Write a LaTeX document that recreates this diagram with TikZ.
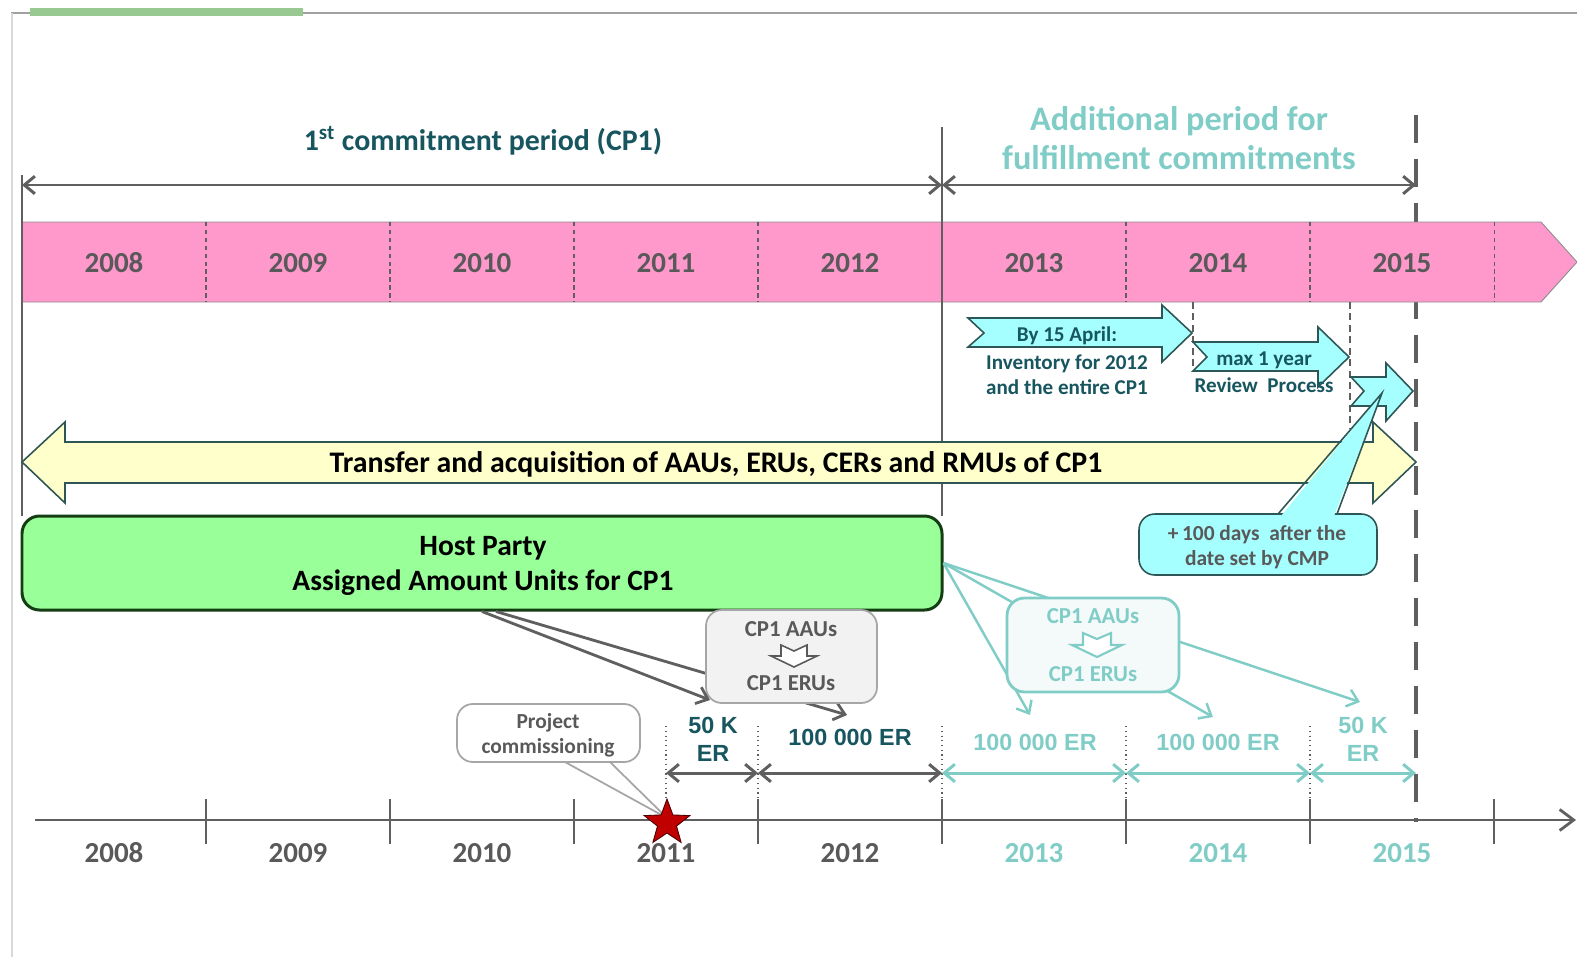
\documentclass[tikz,border=0pt]{standalone}
\usepackage{fontspec}
\setmainfont{Carlito}
\newfontfamily\arialfont{Liberation Sans}
\usepackage{tikz}
\usetikzlibrary{arrows.meta, fit, shapes.geometric}
\definecolor{linegray}{HTML}{5F5F5F}
\definecolor{textgray}{HTML}{595959}
\definecolor{framegray}{HTML}{A0A0A0}
\definecolor{framegreen}{HTML}{98C990}
\definecolor{bandpink}{HTML}{FF99CC}
\definecolor{transyellow}{HTML}{FFFFCC}
\definecolor{stepcyan}{HTML}{A6FFFF}
\definecolor{hostgreen}{HTML}{99FF99}
\definecolor{hostborder}{HTML}{143D14}
\definecolor{shapeborder}{HTML}{2F5656}
\definecolor{darkteal}{HTML}{17555F}
\definecolor{lightteal}{HTML}{80CCC6}
\definecolor{boxgray}{HTML}{F2F2F2}
\definecolor{boxborder}{HTML}{A6A6A6}
\definecolor{tealfill}{HTML}{F4FAFA}
\definecolor{starred}{HTML}{C00000}

\begin{document}
\begin{tikzpicture}[x=0.02cm, y=-0.02cm,
    yearlbl/.style={text=textgray, font=\fontsize{16.5}{16.5}\selectfont\bfseries},
    erlbl/.style={text=darkteal, align=center, font=\arialfont\bfseries\fontsize{13.3}{16}\selectfont},
    dimdark/.style={linegray, line width=1.7pt, {Straight Barb[length=6pt,width=10pt]}-{Straight Barb[length=6pt,width=10pt]}},
    dimteal/.style={dimdark, lightteal},
    convdark/.style={linegray, line width=1.6pt, -{Straight Barb[length=6pt,width=10pt]}},
    convteal/.style={convdark, lightteal, line width=1.4pt},
    steptext/.style={text=darkteal, align=center, font=\fontsize{12}{14.2}\selectfont\bfseries},
    stepshape/.style={fill=stepcyan, draw=shapeborder, line width=0.9pt},
    convbox/.style={fill=boxgray, draw=boxborder, line width=1pt, rounded corners=9pt, inner sep=0pt},
    convtext/.style={text=textgray, font=\fontsize{13}{13}\selectfont\bfseries},
    hosttext/.style={font=\fontsize{16.8}{16.8}\selectfont\bfseries},
    notetext/.style={text=textgray, font=\fontsize{12.2}{12.2}\selectfont\bfseries},
  ]
  \useasboundingbox (0,0) rectangle (1577,957);

  % page frame
  \draw[framegray, line width=1.6pt] (11,13) -- (1577,13);
  \draw[framegreen, line width=5pt] (30,12) -- (303,12);
  \draw[black!15, line width=0.6pt] (12,13) -- (12,957);

  % end of the additional period
  \draw[linegray, line width=2.6pt, dash pattern=on 16pt off 9pt] (1416,115) -- (1416,822);

  % year band
  \draw[fill=bandpink, draw=black!45, line width=0.5pt] (22,222) -- (1541,222) -- (1577,262) -- (1541,302) -- (22,302) -- cycle;
  \foreach \x in {206,390,574,758,1126,1310,1494}
    \draw[linegray, dash pattern=on 2.5pt off 2pt, line width=0.6pt] (\x,222) -- (\x,302);
  \foreach \yr [count=\i from 0] in {2008,...,2015}
    \node[yearlbl] (band\yr) at (114+184*\i,263) {\yr};

  % period limits
  \draw[linegray, line width=1.3pt] (22,175) -- (22,516);
  \draw[linegray, line width=1.3pt] (942,127) -- (942,516);
  \coordinate (cpstart) at (22,185);
  \coordinate (cpend) at (942,185);
  \coordinate (addend) at (1416,185);
  \draw[dimdark] (cpstart) -- (cpend);
  \draw[dimdark] (cpend) -- (addend);

  \node[text=darkteal, font=\fontsize{17}{17}\selectfont\bfseries] (cphead) at (483,141) {1\textsuperscript{st} commitment period (CP1)};
  \node[text=lightteal, align=center, font=\fontsize{19.5}{22}\selectfont\bfseries] (addhead) at (1179,138) {Additional period for\\fulfillment commitments};

  % review steps
  \draw[linegray, line width=1.2pt, dash pattern=on 4pt off 2.5pt] (1193,302) -- (1193,372);
  \draw[linegray, line width=1.2pt, dash pattern=on 4pt off 2.5pt] (1350,302) -- (1350,428);

  \draw[stepshape] (968,318) -- (1162,318) -- (1162,305) -- (1192,333) -- (1162,362) -- (1162,347) -- (968,347) -- (984,333) -- cycle;
  \node[steptext] (april) at (1067,336) {By 15 April:};
  \node[steptext] (inventory) at (1067,375) {Inventory for 2012\\and the entire CP1};

  \draw[stepshape] (1193,342) -- (1318,342) -- (1318,327) -- (1349,357) -- (1318,387) -- (1318,371) -- (1193,371) -- (1207,357) -- cycle;
  \node[steptext] (maxyear) at (1264,360) {max 1 year};
  \node[steptext] (review) at (1264,385) {Review~ Process};

  \draw[stepshape] (1351,377) -- (1386,377) -- (1386,363) -- (1413,391) -- (1386,421) -- (1386,406) -- (1351,406) -- (1364,391) -- cycle;

  % transfer of units
  \draw[fill=transyellow, draw=shapeborder, line width=0.9pt] (22,462) -- (65,422) -- (65,442) -- (1373,442) -- (1373,422) -- (1416,462) -- (1373,503) -- (1373,483) -- (65,483) -- (65,503) -- cycle;
  \node[font=\fontsize{17}{17}\selectfont\bfseries] (transfer) at (716,464) {Transfer and acquisition of AAUs, ERUs, CERs and RMUs of CP1};

  % true-up callout
  \node[fill=stepcyan, draw=shapeborder, line width=0.9pt, rounded corners=9pt, inner sep=0pt, fit={(1139,514) (1377,575)}] (cmp) {};
  \fill[stepcyan] (1281,516) -- (1382,393) -- (1334,516) -- cycle;
  \draw[shapeborder, line width=0.9pt] (1278,514) -- (1382,393) -- (1337,514);
  \node[notetext] (cmpa) at (1257,535) {+\,100 days~ after the};
  \node[notetext] (cmpb) at (1257,560) {date set by CMP};

  % host party units
  \node[fill=hostgreen, draw=hostborder, line width=1.7pt, rounded corners=10pt, inner sep=0pt, fit={(22,516) (942,610)}] (host) {};
  \node[hosttext] (hosta) at (483,548) {Host Party};
  \node[hosttext] (hostb) at (483,583) {Assigned Amount Units for CP1};

  \coordinate (er11) at (710,700);
  \coordinate (er12) at (847,715);
  \coordinate (er13) at (1030,715);
  \coordinate (er14) at (1213,717);
  \coordinate (er15) at (1360,702);

  \draw[convdark] ([xshift=0.28cm]host.south) -- (er12);
  \node[convbox, fit={(706,610) (877,703)}] (conv) {};
  \node[convtext] (convaau) at (791,629) {CP1 AAUs};
  \node[convtext] (converu) at (791,683) {CP1 ERUs};
  \begin{scope}[shift={(794,656)}]
    \draw[textgray, fill=white, line width=0.9pt] (-13,-11) -- (0,-5) -- (13,-11) -- (13,0) -- (23,0) -- (0,11) -- (-23,0) -- (-13,0) -- cycle;
  \end{scope}
  \draw[convdark] (host.south) -- (er11);

  \draw[convteal] (host.east) -- (er13);
  \draw[convteal] (host.east) -- (er14);
  \draw[convteal] (host.east) -- (er15);
  \node[fill=tealfill, draw=lightteal, line width=1.6pt, rounded corners=10pt, inner sep=0pt, fit={(1007,598) (1179,692)}] (convb) {};
  \node[convtext, text=lightteal] (convbaau) at (1093,616) {CP1 AAUs};
  \node[convtext, text=lightteal] (convberu) at (1093,674) {CP1 ERUs};
  \begin{scope}[shift={(1097,645)}]
    \draw[lightteal, fill=white, line width=1.2pt] (-14,-12) -- (0,-6) -- (14,-12) -- (14,0) -- (25,0) -- (0,12) -- (-25,0) -- (-14,0) -- cycle;
  \end{scope}

  % yearly reductions
  \foreach \x in {666,758,942,1126,1310}
    \draw[linegray, dotted, line width=0.7pt] (\x,726) -- (\x,820);
  \coordinate (m1) at (666,773);
  \coordinate (m2) at (758,773);
  \coordinate (m3) at (942,773);
  \coordinate (m4) at (1126,773);
  \coordinate (m5) at (1310,773);
  \coordinate (m6) at (1416,773);
  \draw[dimdark] (m1) -- (m2);
  \draw[dimdark] (m2) -- (m3);
  \draw[dimteal] (m3) -- (m4);
  \draw[dimteal] (m4) -- (m5);
  \draw[dimteal] (m5) -- (m6);
  \node[erlbl] (er2011) at (713,739) {50 K\\ER};
  \node[erlbl] (er2012) at (850,737) {100 000 ER};
  \node[erlbl, text=lightteal] (er2013) at (1035,742) {100 000 ER};
  \node[erlbl, text=lightteal] (er2014) at (1218,742) {100 000 ER};
  \node[erlbl, text=lightteal] (er2015) at (1363,739) {50 K\\ER};

  % time axis
  \draw[linegray, line width=1.6pt, -{Straight Barb[length=8pt,width=12pt]}] (35,820) -- (1576,820);
  \foreach \x in {206,390,...,1494}
    \draw[linegray, line width=1pt] (\x,799) -- (\x,844);
  \foreach \yr [count=\i from 0] in {2008,...,2012}
    \node[yearlbl] (axis\yr) at (114+184*\i,853) {\yr};
  \foreach \yr [count=\i from 5] in {2013,2014,2015}
    \node[yearlbl, text=lightteal] (axis\yr) at (114+184*\i,853) {\yr};

  % project commissioning
  \node[fill=white, draw=boxborder, line width=1pt, rounded corners=9pt, inner sep=0pt, fit={(457,704) (640,762)}] (commis) {};
  \fill[white] (568,764) -- (667,818) -- (607,764) -- cycle;
  \draw[boxborder, line width=1pt] (565,762) -- (667,818) -- (610,762);
  \node[notetext] (commisa) at (548,723) {Project};
  \node[notetext] (commisb) at (548,748) {commissioning};
  \node[star, star points=5, star point ratio=2.4, fill=starred, draw=red!30!black, line width=0.5pt, minimum size=0.96cm, inner sep=0pt] (launch) at (667,823) {};
\end{tikzpicture}
\end{document}
